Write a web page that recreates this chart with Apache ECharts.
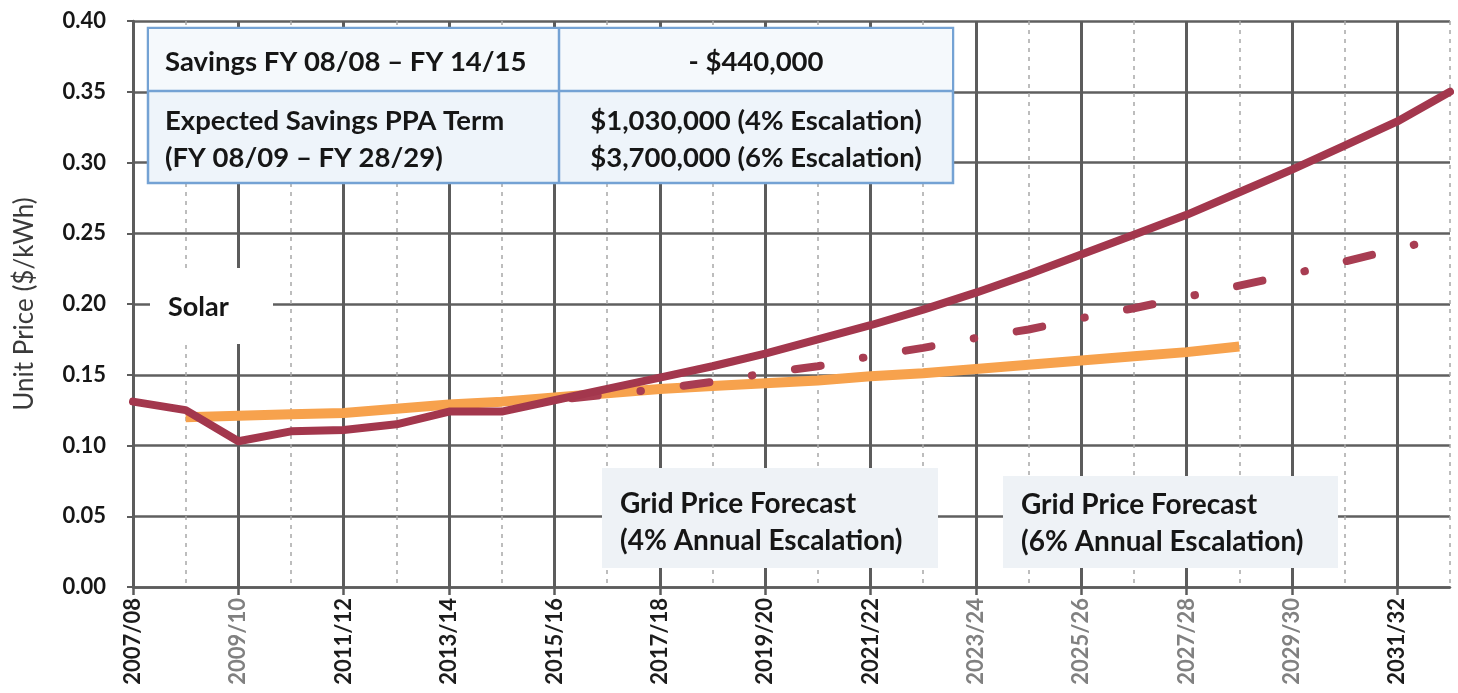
<!DOCTYPE html>
<html>
<head>
<meta charset="utf-8">
<script src="https://cdn.jsdelivr.net/npm/echarts@6/dist/echarts.min.js"></script>
<style>
  html, body { margin: 0; padding: 0; background: #ffffff; }
  #chart { width: 1458px; height: 693px; }
</style>
</head>
<body>
<div id="chart"></div>
<script>
// Financial years on the x axis
const years = [
  '2007/08', '2008/09', '2009/10', '2010/11', '2011/12', '2012/13', '2013/14',
  '2014/15', '2015/16', '2016/17', '2017/18', '2018/19', '2019/20', '2020/21',
  '2021/22', '2022/23', '2023/24', '2024/25', '2025/26', '2026/27', '2027/28',
  '2028/29', '2029/30', '2030/31', '2031/32', '2032/33'
];

// Grid price: actual to 2015/16, then 6% annual escalation forecast ($/kWh)
const gridPrice6 = [
  0.131, 0.125, 0.103, 0.110, 0.111, 0.115, 0.124, 0.124, 0.132, 0.140,
  0.148, 0.156, 0.165, 0.175, 0.185, 0.196, 0.208, 0.221, 0.235, 0.249,
  0.263, 0.279, 0.295, 0.312, 0.329, 0.350
];

// Grid price forecast with 4% annual escalation ($/kWh)
const gridPrice4 = [
  null, null, null, null, null, null, null, null, 0.132, 0.136,
  0.140, 0.145, 0.151, 0.156, 0.163, 0.169, 0.176, 0.182, 0.190, 0.197,
  0.205, 0.213, 0.221, 0.230, 0.239, 0.248
];

// Solar PPA price over the agreement term ($/kWh)
const solarPrice = [
  null, 0.120, 0.121, 0.122, 0.123, 0.126, 0.129, 0.131, 0.134, 0.137,
  0.140, 0.142, 0.144, 0.146, 0.149, 0.151, 0.154, 0.157, 0.160, 0.163,
  0.166, 0.170, null, null, null, null
];

// Savings summary table
const tableRows = [
  ['Savings FY 08/08 \u2013 FY 14/15', '- $440,000'],
  ['Expected Savings PPA Term\n(FY 08/09 \u2013 FY 28/29)', '$1,030,000 (4% Escalation)\n$3,700,000 (6% Escalation)']
];

// Chart annotations
const solarLabel = 'Solar';
const forecastLabel4 = 'Grid Price Forecast\n(4% Annual Escalation)';
const forecastLabel6 = 'Grid Price Forecast\n(6% Annual Escalation)';

const FONT = 'Lato, "Open Sans", sans-serif';
const INK = '#161616';
const BORDER = '#74a2d4';
const lightYears = new Set(['2009/10', '2023/24', '2025/26', '2027/28', '2029/30']);

const chart = echarts.init(document.getElementById('chart'), null, { renderer: 'canvas' });

function label(x, y, text, extra) {
  return {
    type: 'text', x: x, y: y, z: 102,
    style: Object.assign({
      text: text, fontFamily: FONT, fontSize: 27.5, fontWeight: 'bold',
      fill: INK, lineHeight: 37, textVerticalAlign: 'middle'
    }, extra || {})
  };
}
function box(x, y, w, h, fill, stroke) {
  const s = { fill: fill };
  if (stroke) { s.stroke = stroke; s.lineWidth = 2.5; }
  return { type: 'rect', z: 100, shape: { x: x, y: y, width: w, height: h }, style: s };
}
function rule(x1, y1, x2, y2) {
  return { type: 'line', z: 101, shape: { x1: x1, y1: y1, x2: x2, y2: y2 }, style: { stroke: BORDER, lineWidth: 2.5 } };
}

chart.setOption({
  animation: false,
  backgroundColor: '#ffffff',
  grid: { left: 133, right: 8, top: 21, bottom: 106, containLabel: false },
  xAxis: [
    {
      type: 'category',
      data: years,
      boundaryGap: false,
      axisLine: { show: true, lineStyle: { color: '#5c5c5c', width: 2.5 } },
      axisTick: { show: true, interval: 1, length: 8, lineStyle: { color: '#5c5c5c', width: 2.5 } },
      axisLabel: {
        interval: 1,
        rotate: 90,
        margin: 11,
        fontFamily: FONT,
        fontSize: 22,
        fontWeight: 'bold',
        color: function (value) { return lightYears.has(value) ? '#808080' : '#1c1c1c'; }
      },
      splitLine: { show: true, interval: 1, lineStyle: { color: '#5c5c5c', width: 3 } }
    },
    {
      // minor gridlines at the unlabelled years
      type: 'category',
      data: years,
      boundaryGap: false,
      position: 'bottom',
      axisLine: { show: false },
      axisTick: { show: false },
      axisLabel: { show: false },
      splitLine: {
        show: true,
        interval: function (index) { return index % 2 === 1; },
        lineStyle: { color: '#a8a8a8', width: 1.5, type: [4, 5] }
      }
    }
  ],
  yAxis: {
    type: 'value',
    min: 0,
    max: 0.4,
    interval: 0.05,
    name: 'Unit Price ($/kWh)',
    nameLocation: 'middle',
    nameGap: 95,
    nameTextStyle: { fontFamily: FONT, fontSize: 26, color: '#3a3a3a' },
    axisLine: { show: true, lineStyle: { color: '#5c5c5c', width: 2.5 } },
    axisTick: { show: true, length: 6, lineStyle: { color: '#5c5c5c', width: 2 } },
    axisLabel: {
      margin: 27,
      fontFamily: FONT,
      fontSize: 22,
      fontWeight: 'bold',
      color: INK,
      formatter: function (v) { return v.toFixed(2); }
    },
    splitLine: { show: true, lineStyle: { color: '#5f5f5f', width: 2.5 } }
  },
  series: [
    {
      name: 'Solar',
      type: 'line',
      data: solarPrice,
      showSymbol: false,
      connectNulls: false,
      z: 3,
      lineStyle: { color: '#f7a24d', width: 10, cap: 'butt' }
    },
    {
      name: 'Grid Price Forecast (4%)',
      type: 'line',
      data: gridPrice4,
      showSymbol: false,
      z: 4,
      lineStyle: {
        color: '#a83d52',
        width: 8,
        type: [26, 43, 0.5, 43],
        dashOffset: 95,
        cap: 'round',
        join: 'round'
      }
    },
    {
      name: 'Grid Price (6%)',
      type: 'line',
      data: gridPrice6,
      showSymbol: false,
      z: 5,
      lineStyle: { color: '#a3374d', width: 8, cap: 'round', join: 'round' }
    }
  ],
  graphic: [
    // savings table
    box(148, 28, 805, 155, '#eef4fa', BORDER),
    box(149, 29, 803, 61, '#f5f9fc'),
    rule(148, 91, 953, 91),
    rule(559, 28, 559, 183),
    label(165, 62, tableRows[0][0]),
    label(756, 62, tableRows[0][1], { textAlign: 'center' }),
    label(165, 140, tableRows[1][0]),
    label(756, 140, tableRows[1][1], { textAlign: 'center' }),
    // "Solar" label
    box(150, 268, 123, 76, '#ffffff'),
    label(168, 307, solarLabel, { fontSize: 27 }),
    // 4% forecast label
    box(602, 468, 336, 100, '#eef2f6'),
    label(620, 522, forecastLabel4, { fontSize: 28 }),
    // 6% forecast label
    box(1003, 476, 335, 92, '#eef2f6'),
    label(1021, 523, forecastLabel6, { fontSize: 28 })
  ]
});
</script>
</body>
</html>
